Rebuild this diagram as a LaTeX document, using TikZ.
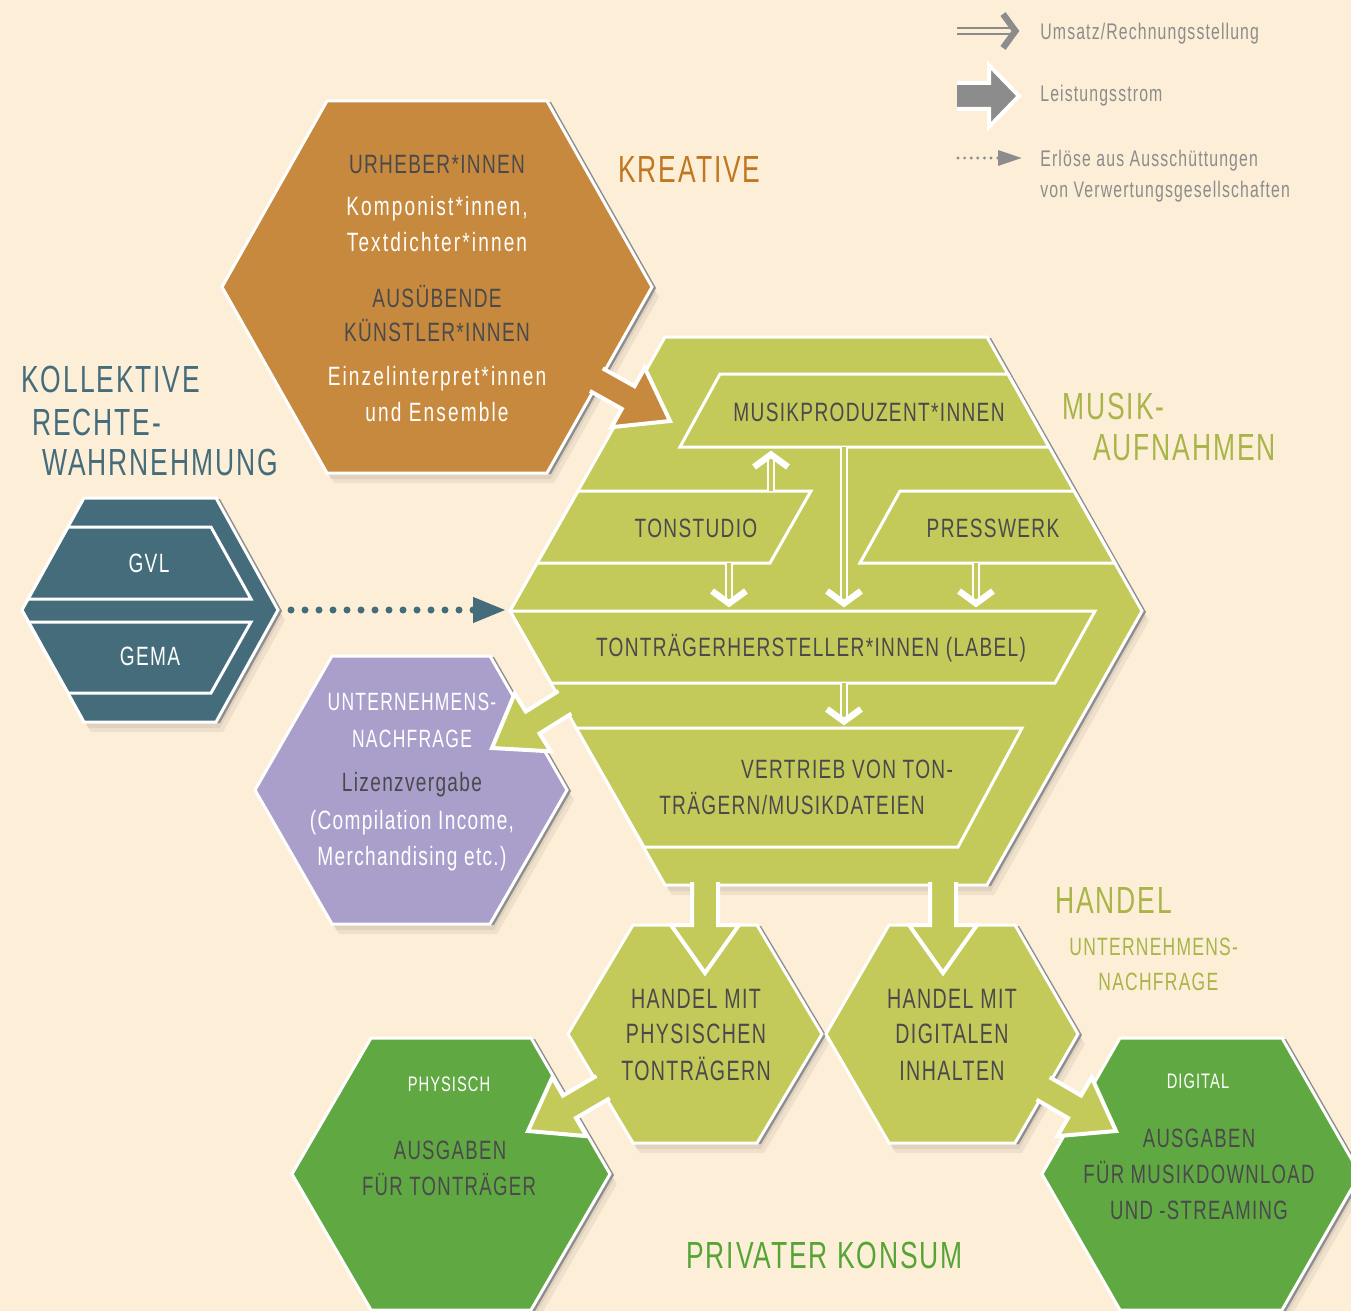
\documentclass[tikz,border=0pt]{standalone}
\usepackage{fontspec}
\setmainfont{Liberation Sans}
\newfontfamily\bodyf{Liberation Sans}[FakeStretch=0.72,LetterSpace=5]
\newfontfamily\lowf{Liberation Sans}[FakeStretch=0.72,LetterSpace=8]
\newfontfamily\tightf{Liberation Sans}[FakeStretch=0.7,LetterSpace=5]
\usetikzlibrary{calc,arrows.meta}

\definecolor{bgcream}{HTML}{FDEFD7}
\definecolor{kreaorange}{HTML}{C6893D}
\definecolor{kreatitle}{HTML}{C0771F}
\definecolor{musikgreen}{HTML}{C4CA5A}
\definecolor{musiktitle}{HTML}{A9B449}
\definecolor{lizenzlila}{HTML}{AA9FCB}
\definecolor{vgteal}{HTML}{446C7A}
\definecolor{konsumgreen}{HTML}{60A842}
\definecolor{konsumtitle}{HTML}{55A436}
\definecolor{textdark}{HTML}{4A4A4C}
\definecolor{legendgray}{HTML}{8C8C8C}
\definecolor{shadowgray}{HTML}{8E8E8E}

% hexagon: centre x, centre y, half width, half top width, half height
\newcommand\hexpath[5]{(#1-#4,#2-#5) -- (#1+#4,#2-#5) -- (#1+#3,#2) -- (#1+#4,#2+#5) -- (#1-#4,#2+#5) -- (#1-#3,#2) -- cycle}
% same hexagon the other way round, a bit smaller (cut out of a clip)
\newcommand\hexhole[5]{(#1-#3+3,#2) -- (#1-#4+2,#2+#5-3) -- (#1+#4-2,#2+#5-3) -- (#1+#3-3,#2) -- (#1+#4-2,#2-#5+3) -- (#1-#4+2,#2-#5+3) -- cycle}
% hexagon with shadow
\newcommand\hexa[6]{%
  \fill[black,opacity=0.06,shift={(7,10)}] \hexpath{#1}{#2}{#3}{#4}{#5};
  \fill[black,opacity=0.06,shift={(4,6)}] \hexpath{#1}{#2}{#3}{#4}{#5};
  \fill[shadowgray,shift={(4,1)}] \hexpath{#1}{#2}{#3}{#4}{#5};
  \fill[#6,hexborder] \hexpath{#1}{#2}{#3}{#4}{#5};
}
% Leistungsstrom: start, tip, colour, head length, head half width
\newcommand\leistung[5]{%
  \coordinate (hb) at ($(#2)!#4!(#1)$);
  \fill[#3,draw=white,line width=2pt,line join=miter]
    ($(#1)!6.5pt!90:(#2)$) -- ($(hb)!6.5pt!90:(#2)$) -- ($(hb)!#5!90:(#2)$) -- (#2)
    -- ($(hb)!#5!-90:(#2)$) -- ($(hb)!6.5pt!-90:(#2)$) -- ($(#1)!6.5pt!-90:(#2)$);
}
% Umsatz: start, tip, line colour, gap colour
\newcommand\umsatz[4]{%
  \draw[#3,line width=1pt,double=#4,double distance=2pt] (#1) -- ($(#2)!4pt!(#1)$);
  \draw[#3,line width=3.2pt,line join=miter] ($(#2)!12pt!45:(#1)$) -- ($(#2)!2.3pt!(#1)$) -- ($(#2)!12pt!-45:(#1)$);
}

\begin{document}
\begin{tikzpicture}[x=0.5pt,y=-0.5pt,
  hexborder/.style={draw=white,line width=1.5pt,line join=miter},
  band/.style={draw=white,line width=1.5pt,line join=miter},
  lbl/.style={inner sep=0pt,anchor=base,text=textdark,font=\bodyf\fontsize{13.25}{15}\selectfont},
  lowlbl/.style={lbl,text=white,font=\lowf\fontsize{13.25}{15}\selectfont},
  hlbl/.style={lbl,font=\tightf\fontsize{14}{16}\selectfont},
  klbl/.style={lbl,font=\tightf\fontsize{13.25}{15}\selectfont},
  smalllbl/.style={lbl,text=white,font=\tightf\fontsize{12.5}{14}\selectfont},
  sectitle/.style={inner sep=0pt,anchor=base west,font=\tightf\fontsize{18.9}{22}\selectfont},
  legtext/.style={inner sep=0pt,anchor=base west,text=legendgray,font=\tightf\fontsize{11.3}{13}\selectfont},
  vgdots/.style={vgteal,line width=3.5pt,line cap=round,dash pattern=on 0pt off 7pt,-{Triangle[length=16.5pt,width=12pt]}}]

    % Background
    \useasboundingbox (0,0) rectangle (1351,1311);
    \fill[bgcream] (0,0) rectangle (1351,1311);

    % Hexagons
    \hexa{451}{1174}{159}{80}{136}{konsumgreen}
    \hexa{1201}{1174}{159}{81}{136}{konsumgreen}
    \hexa{695}{1034}{127}{62}{109}{musikgreen}
    \hexa{952}{1034}{126}{63}{109}{musikgreen}
    \hexa{411}{790}{156}{79}{134}{lizenzlila}
    \hexa{150}{610}{128}{66}{112}{vgteal}
    \hexa{437}{287}{215}{110}{186}{kreaorange}
    \hexa{826}{611}{316}{161}{274}{musikgreen}

    % GVL / GEMA
    \draw[band] (68,527) -- (211,527) -- (251,599) -- (28,599) -- cycle;
    \draw[band] (28,622) -- (251,622) -- (211,693) -- (68,693) -- cycle;

    % Musikaufnahmen bands
    \draw[band] (720,374) -- (1008,374) -- (1049,447) -- (680,447) -- cycle;
    \draw[band] (578,491) -- (811,491) -- (770,563) -- (537,563) -- cycle;
    \draw[band] (900,491) -- (1074,491) -- (1115,563) -- (860,563) -- cycle;
    \draw[band] (510,611) -- (1095,611) -- (1055,683) -- (551,683) -- cycle;
    \draw[band] (576,728) -- (1022,728) -- (958,847) -- (644,847) -- cycle;

    % Umsatz inside
    \coordinate (ts-n) at (771,491);  \coordinate (mp-in) at (771,450);
    \coordinate (mp-out) at (844,447); \coordinate (lb-in1) at (844,608);
    \coordinate (ts-s) at (729,563);  \coordinate (lb-in2) at (729,608);
    \coordinate (pw-s) at (976,563);  \coordinate (lb-in3) at (976,608);
    \coordinate (lb-s) at (844,683);  \coordinate (vt-n) at (844,726);
    \foreach \a/\b in {ts-n/mp-in,mp-out/lb-in1,ts-s/lb-in2,pw-s/lb-in3,lb-s/vt-n}
        \umsatz{\a}{\b}{white}{musikgreen};

    % Leistungsstrom
    \coordinate (krea-s) at (563,361);   \coordinate (musik-t) at (670,421);
    \coordinate (musik-s) at (599,681);  \coordinate (lizenz-t) at (492,748);
    \coordinate (musik-s1) at (705,860); \coordinate (hp-t) at (705,973);
    \coordinate (musik-s2) at (943,860); \coordinate (hd-t) at (943,973);
    \coordinate (hp-s) at (629,1072);    \coordinate (phys-t) at (528,1131);
    \coordinate (hd-s) at (1015,1072);   \coordinate (dig-t) at (1116,1131);
    \begin{scope}
        \clip (-50,-50) -- (1400,-50) -- (1400,1400) -- (-50,1400) -- cycle \hexhole{437}{287}{215}{110}{186};
        \leistung{krea-s}{musik-t}{kreaorange}{24pt}{17pt}
    \end{scope}
    \begin{scope}
        \clip (-50,-50) -- (1400,-50) -- (1400,1400) -- (-50,1400) -- cycle \hexhole{826}{611}{316}{161}{274};
        \leistung{musik-s}{lizenz-t}{musikgreen}{24pt}{17pt}
        \leistung{musik-s1}{hp-t}{musikgreen}{24pt}{17pt}
        \leistung{musik-s2}{hd-t}{musikgreen}{24pt}{17pt}
    \end{scope}
    \begin{scope}
        \clip (-50,-50) -- (1400,-50) -- (1400,1400) -- (-50,1400) -- cycle \hexhole{695}{1034}{127}{62}{109};
        \leistung{hp-s}{phys-t}{musikgreen}{24pt}{17pt}
    \end{scope}
    \begin{scope}
        \clip (-50,-50) -- (1400,-50) -- (1400,1400) -- (-50,1400) -- cycle \hexhole{952}{1034}{126}{63}{109};
        \leistung{hd-s}{dig-t}{musikgreen}{24pt}{17pt}
    \end{scope}

    % Erloese aus Ausschuettungen
    \coordinate (vg-o) at (291,610); \coordinate (musik-w) at (506,610);
    \draw[vgdots] (vg-o) -- (musik-w);

    % Legend
    \coordinate (lg1-a) at (957,31);  \coordinate (lg1-b) at (1020,31);
    \coordinate (lg2-a) at (957,96);  \coordinate (lg2-b) at (1019,96);
    \coordinate (lg3-a) at (958,158); \coordinate (lg3-b) at (1022,158);
    \umsatz{lg1-a}{lg1-b}{legendgray}{bgcream}
    \leistung{lg2-a}{lg2-b}{legendgray}{15pt}{15.5pt}
    \draw[legendgray,line width=1.6pt,line cap=round,dash pattern=on 0pt off 3.3pt,-{Triangle[length=12pt,width=7.5pt]}] (lg3-a) -- (lg3-b);
    \node[legtext] (lg-umsatz) at (1040,40) {Umsatz/Rechnungsstellung};
    \node[legtext] (lg-leistung) at (1040,102) {Leistungsstrom};
    \node[legtext] (lg-erloese) at (1040,167) {Erlöse aus Ausschüttungen};
    \node[legtext] (lg-vg) at (1040,198) {von Verwertungsgesellschaften};

    % Section titles
    \node[sectitle,text=kreatitle] (kreative) at (618,183) {KREATIVE};
    \node[sectitle,text=musiktitle] (musik1) at (1062,419) {MUSIK-};
    \node[sectitle,text=musiktitle] (musik2) at (1093,460) {AUFNAHMEN};
    \node[sectitle,text=vgteal] (kollektiv1) at (21,392) {KOLLEKTIVE};
    \node[sectitle,text=vgteal] (kollektiv2) at (32,435) {RECHTE-};
    \node[sectitle,text=vgteal] (kollektiv3) at (42,475) {WAHRNEHMUNG};
    \node[sectitle,text=musiktitle] (handel) at (1055,913) {HANDEL};
    \node[smalllbl,anchor=base west,text=musiktitle] (handel-un1) at (1069,955) {UNTERNEHMENS-};
    \node[smalllbl,anchor=base west,text=musiktitle] (handel-un2) at (1098,990) {NACHFRAGE};
    \node[sectitle,text=konsumtitle] (konsum) at (686,1268) {PRIVATER KONSUM};

    % Kreative
    \node[lbl] (urheber) at (437,174) {URHEBER*INNEN};
    \node[lowlbl] (komponist) at (437,215) {Komponist*innen,};
    \node[lowlbl] (textdichter) at (437,251) {Textdichter*innen};
    \node[lbl] (ausuebende) at (437,307) {AUSÜBENDE};
    \node[lbl] (kuenstler) at (437,342) {KÜNSTLER*INNEN};
    \node[lowlbl] (einzel) at (437,385) {Einzelinterpret*innen};
    \node[lowlbl] (ensemble) at (437,421) {und Ensemble};

    % Musikaufnahmen
    \node[lbl] (musikprod) at (869,421) {MUSIKPRODUZENT*INNEN};
    \node[lbl] (tonstudio) at (696,537) {TONSTUDIO};
    \node[lbl] (presswerk) at (993,537) {PRESSWERK};
    \node[lbl] (label) at (811,656) {TONTRÄGERHERSTELLER*INNEN (LABEL)};
    \node[lbl] (vertrieb1) at (847,778) {VERTRIEB VON TON-};
    \node[lbl] (vertrieb2) at (792,814) {TRÄGERN/MUSIKDATEIEN};

    % Verwertungsgesellschaften
    \node[lbl,text=white] (gvl) at (149,572) {GVL};
    \node[lbl,text=white] (gema) at (150,665) {GEMA};

    % Lizenzvergabe
    \node[smalllbl] (lizenz1) at (412,710) {UNTERNEHMENS-};
    \node[smalllbl] (lizenz2) at (412,747) {NACHFRAGE};
    \node[lbl] (lizenz3) at (412,791) {Lizenzvergabe};
    \node[lbl,text=white] (lizenz4) at (412,829) {(Compilation Income,};
    \node[lbl,text=white] (lizenz5) at (412,865) {Merchandising etc.)};

    % Handel
    \node[hlbl] (hp1) at (696,1008) {HANDEL MIT};
    \node[hlbl] (hp2) at (696,1043) {PHYSISCHEN};
    \node[hlbl] (hp3) at (696,1080) {TONTRÄGERN};
    \node[hlbl] (hd1) at (952,1008) {HANDEL MIT};
    \node[hlbl] (hd2) at (952,1043) {DIGITALEN};
    \node[hlbl] (hd3) at (952,1080) {INHALTEN};

    % Privater Konsum
    \node[smalllbl,font=\tightf\fontsize{10.5}{12}\selectfont] (physisch) at (449,1091) {PHYSISCH};
    \node[klbl] (ausg-p1) at (450,1159) {AUSGABEN};
    \node[klbl] (ausg-p2) at (449,1195) {FÜR TONTRÄGER};
    \node[smalllbl,font=\tightf\fontsize{10.5}{12}\selectfont] (digital) at (1198,1088) {DIGITAL};
    \node[klbl] (ausg-d1) at (1199,1147) {AUSGABEN};
    \node[klbl] (ausg-d2) at (1199,1183) {FÜR MUSIKDOWNLOAD};
    \node[klbl] (ausg-d3) at (1199,1219) {UND -STREAMING};
\end{tikzpicture}
\end{document}
